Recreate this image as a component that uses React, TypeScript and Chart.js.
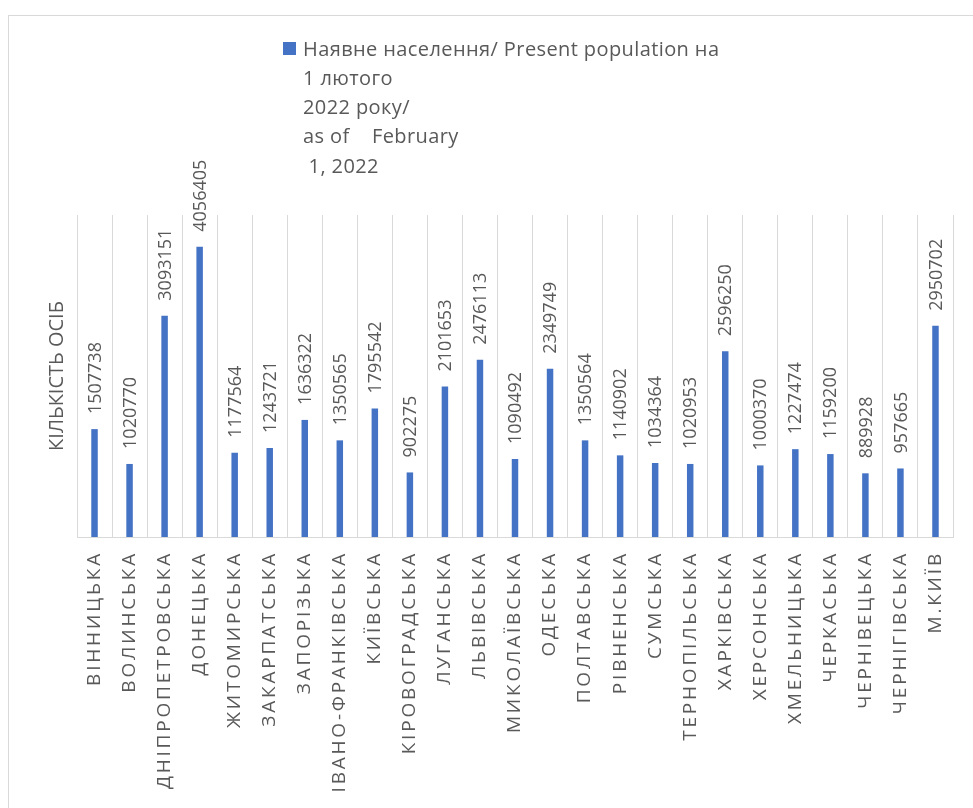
import React, { useEffect, useRef } from "react";
import { Chart, registerables } from "chart.js";

Chart.register(...registerables);

const categories: string[] = [
  "ВІННИЦЬКА", "ВОЛИНСЬКА", "ДНІПРОПЕТРОВСЬКА", "ДОНЕЦЬКА", "ЖИТОМИРСЬКА",
  "ЗАКАРПАТСЬКА", "ЗАПОРІЗЬКА", "ІВАНО-ФРАНКІВСЬКА", "КИЇВСЬКА", "КІРОВОГРАДСЬКА",
  "ЛУГАНСЬКА", "ЛЬВІВСЬКА", "МИКОЛАЇВСЬКА", "ОДЕСЬКА", "ПОЛТАВСЬКА",
  "РІВНЕНСЬКА", "СУМСЬКА", "ТЕРНОПІЛЬСЬКА", "ХАРКІВСЬКА", "ХЕРСОНСЬКА",
  "ХМЕЛЬНИЦЬКА", "ЧЕРКАСЬКА", "ЧЕРНІВЕЦЬКА", "ЧЕРНІГІВСЬКА", "М.КИЇВ",
];

const population: number[] = [
  1507738, 1020770, 3093151, 4056405, 1177564,
  1243721, 1636322, 1350565, 1795542, 902275,
  2101653, 2476113, 1090492, 2349749, 1350564,
  1140902, 1034364, 1020953, 2596250, 1000370,
  1227474, 1159200, 889928, 957665, 2950702,
];

const legendLines: string[] = [
  "Наявне населення/ Present population на",
  "1 лютого",
  "2022 року/",
  "as of    February",
  " 1, 2022",
];

const yTitle = "КІЛЬКІСТЬ ОСІБ";
const yMax = 4500000;

const BAR_COLOR = "#4472C4";
const TEXT_COLOR = "#595959";
const GRID_COLOR = "#d9d9d9";
const FONT = "'Open Sans', 'Noto Sans', sans-serif";

export default function App() {
  const ref = useRef<HTMLCanvasElement | null>(null);

  useEffect(() => {
    if (!ref.current) return;

    const decor = {
      id: "decor",
      beforeDraw(chart: any) {
        const ctx = chart.ctx;
        ctx.save();
        ctx.fillStyle = "#ffffff";
        ctx.fillRect(0, 0, chart.width, chart.height);
        ctx.strokeStyle = GRID_COLOR;
        ctx.lineWidth = 1;
        ctx.strokeRect(8.5, 15.5, 2000, 2000);
        ctx.restore();
        (ctx as any).letterSpacing = "0px";
      },
      afterDatasetsDraw(chart: any) {
        const ctx = chart.ctx;
        const meta = chart.getDatasetMeta(0);
        ctx.save();
        ctx.font = `18px ${FONT}`;
        ctx.fillStyle = TEXT_COLOR;
        ctx.textAlign = "left";
        ctx.textBaseline = "middle";
        meta.data.forEach((bar: any, i: number) => {
          ctx.save();
          ctx.translate(bar.x + 1, bar.y - 15);
          ctx.rotate(-Math.PI / 2);
          ctx.fillText(String(chart.data.datasets[0].data[i]), 0, 0);
          ctx.restore();
        });
        ctx.restore();
        (ctx as any).letterSpacing = "2.8px";
      },
      afterDraw(chart: any) {
        const ctx = chart.ctx;
        ctx.save();
        (ctx as any).letterSpacing = "0.4px";
        ctx.fillStyle = BAR_COLOR;
        ctx.fillRect(283, 42, 13, 13);
        ctx.font = `20px ${FONT}`;
        ctx.fillStyle = TEXT_COLOR;
        ctx.textAlign = "left";
        ctx.textBaseline = "alphabetic";
        legendLines.forEach((line, i) => {
          ctx.fillText(line, 303, 55.5 + i * 29.3);
        });
        ctx.restore();
        (ctx as any).letterSpacing = "0px";
      },
    };

    const chart = new Chart(ref.current, {
      type: "bar",
      data: {
        labels: categories,
        datasets: [
          {
            label: legendLines.join(" "),
            data: population,
            backgroundColor: BAR_COLOR,
            categoryPercentage: 1,
            barPercentage: 0.185,
          },
        ],
      },
      options: {
        responsive: false,
        animation: false,
        layout: { padding: { top: 215, right: 20, left: 0, bottom: 0 } },
        plugins: {
          legend: { display: false },
          tooltip: { enabled: false },
        },
        scales: {
          x: {
            grid: {
              display: true,
              color: GRID_COLOR,
              lineWidth: 1,
              drawTicks: false,
              offset: true,
            },
            border: { display: true, color: GRID_COLOR, width: 1 },
            ticks: {
              autoSkip: false,
              maxRotation: 90,
              minRotation: 90,
              padding: 14,
              color: TEXT_COLOR,
              font: { family: FONT, size: 19 },
              z: 1,
            },
            afterFit(scale: any) {
              scale.height = 271;
            },
          },
          y: {
            min: 0,
            max: yMax,
            grid: { display: false, drawTicks: false },
            border: { display: false },
            ticks: { display: false },
            title: {
              display: true,
              text: yTitle,
              color: TEXT_COLOR,
              font: { family: FONT, size: 20 },
              padding: { top: 45, bottom: 8 },
            },
            afterFit(scale: any) {
              scale.width = 77;
            },
          },
        },
      },
      plugins: [decor],
    });

    return () => chart.destroy();
  }, []);

  return (
    <div style={{ position: "absolute", left: 0, top: 0, width: 973, height: 808 }}>
      <canvas ref={ref} width={973} height={808} style={{ display: "block" }} />
    </div>
  );
}
